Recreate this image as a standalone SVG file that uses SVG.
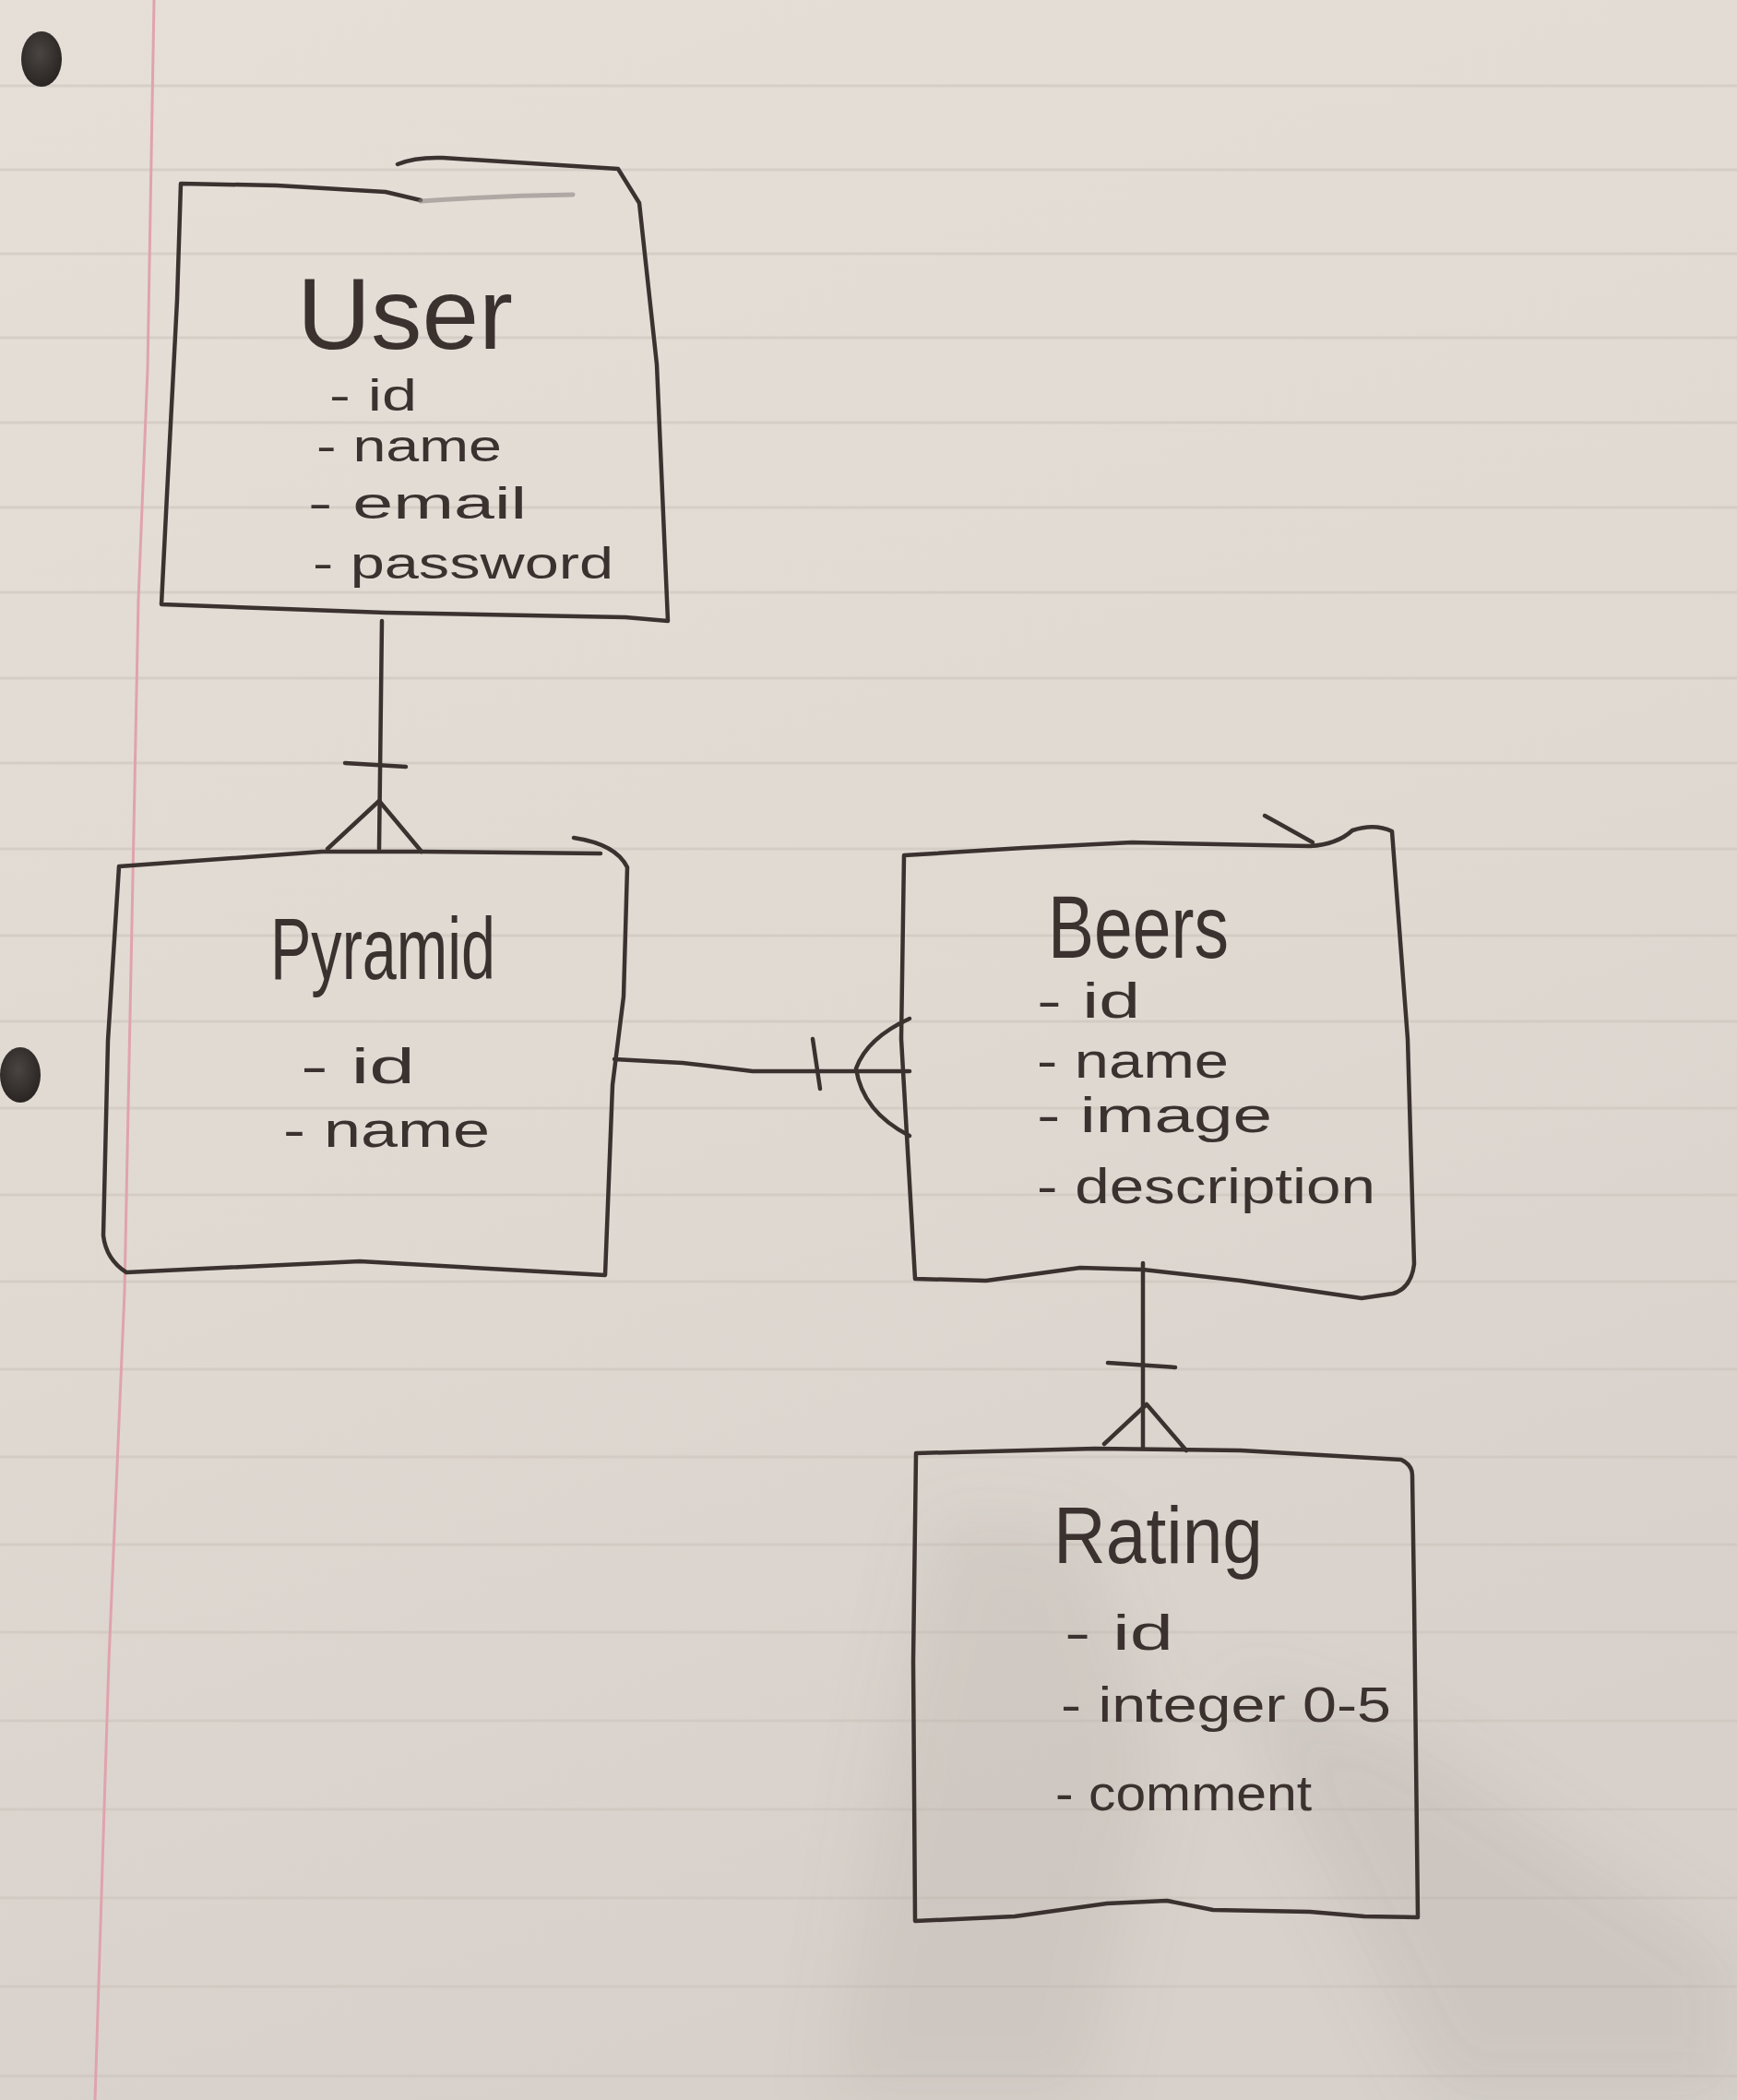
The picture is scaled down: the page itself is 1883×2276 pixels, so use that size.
<svg xmlns="http://www.w3.org/2000/svg" width="1883" height="2276" viewBox="0 0 1883 2276">
<defs>
<style>
.ink{fill:none;stroke:#3b3230;stroke-width:4.5;stroke-linecap:round;stroke-linejoin:round}
.rule{stroke:#cbc3bc;stroke-width:3;opacity:0.55}
.title{font-family:"Liberation Sans",Arial,sans-serif;fill:#3b3230}
.attr{font-family:"Liberation Sans",Arial,sans-serif;font-size:54px;fill:#3b3230}
.attr-sm{font-family:"Liberation Sans",Arial,sans-serif;font-size:48px;fill:#3b3230}
</style>
<linearGradient id="paperGrad" x1="0" y1="0" x2="0.3" y2="1">
<stop offset="0" stop-color="#e5dfd8"/>
<stop offset="0.6" stop-color="#dfd9d2"/>
<stop offset="1" stop-color="#d8d1cb"/>
</linearGradient>
<radialGradient id="holeGrad" cx="0.45" cy="0.4" r="0.6">
<stop offset="0" stop-color="#4a4442"/>
<stop offset="1" stop-color="#2a2523"/>
</radialGradient>
<filter id="blur" x="-30%" y="-30%" width="160%" height="160%">
<feGaussianBlur stdDeviation="35"/>
</filter>
</defs>

<g id="paper">
<rect x="0" y="0" width="1883" height="2276" fill="url(#paperGrad)"/>
<g id="rules">
<line class="rule" x1="0" y1="93" x2="1883" y2="93"/>
<line class="rule" x1="0" y1="184" x2="1883" y2="184"/>
<line class="rule" x1="0" y1="275" x2="1883" y2="275"/>
<line class="rule" x1="0" y1="366" x2="1883" y2="366"/>
<line class="rule" x1="0" y1="458" x2="1883" y2="458"/>
<line class="rule" x1="0" y1="550" x2="1883" y2="550"/>
<line class="rule" x1="0" y1="642" x2="1883" y2="642"/>
<line class="rule" x1="0" y1="735" x2="1883" y2="735"/>
<line class="rule" x1="0" y1="827" x2="1883" y2="827"/>
<line class="rule" x1="0" y1="920" x2="1883" y2="920"/>
<line class="rule" x1="0" y1="1014" x2="1883" y2="1014"/>
<line class="rule" x1="0" y1="1107" x2="1883" y2="1107"/>
<line class="rule" x1="0" y1="1201" x2="1883" y2="1201"/>
<line class="rule" x1="0" y1="1295" x2="1883" y2="1295"/>
<line class="rule" x1="0" y1="1389" x2="1883" y2="1389"/>
<line class="rule" x1="0" y1="1484" x2="1883" y2="1484"/>
<line class="rule" x1="0" y1="1579" x2="1883" y2="1579"/>
<line class="rule" x1="0" y1="1674" x2="1883" y2="1674"/>
<line class="rule" x1="0" y1="1769" x2="1883" y2="1769"/>
<line class="rule" x1="0" y1="1865" x2="1883" y2="1865"/>
<line class="rule" x1="0" y1="1961" x2="1883" y2="1961"/>
<line class="rule" x1="0" y1="2057" x2="1883" y2="2057"/>
<line class="rule" x1="0" y1="2153" x2="1883" y2="2153"/>
<line class="rule" x1="0" y1="2250" x2="1883" y2="2250"/>
</g>
<path d="M167,0 L160,400 L150,650 L143,1000 L135,1400 L118,1800 L103,2276" fill="none" stroke="#e0a3ad" stroke-width="3"/>
<g id="shadow" filter="url(#blur)">
<polygon points="1020,1640 1180,1660 1260,1900 1180,2276 900,2276 960,1900" fill="#8a827c" opacity="0.12"/>
<polygon points="1330,1820 1520,1880 1883,2120 1883,2276 1560,2276" fill="#8a827c" opacity="0.14"/>
</g>
<ellipse cx="45" cy="64" rx="22" ry="30" fill="url(#holeGrad)"/>
<ellipse cx="22" cy="1165" rx="22" ry="30" fill="url(#holeGrad)"/>
</g>

<g id="connectors">
<g id="user-pyramid">
<path class="ink" d="M414,673 L411,920"/>
<path class="ink" d="M374,827 L440,831"/>
<path class="ink" d="M355,920 L411,868 L457,923"/>
</g>
<g id="pyramid-beers">
<path class="ink" d="M666,1148 L740,1152 L816,1161 L986,1161"/>
<path class="ink" d="M881,1126 L889,1180"/>
<path class="ink" d="M986,1104 Q940,1125 928,1158 Q935,1205 986,1231"/>
</g>
<g id="beers-rating">
<path class="ink" d="M1239,1369 L1239,1570"/>
<path class="ink" d="M1201,1477 L1274,1482"/>
<path class="ink" d="M1197,1565 L1243,1522 L1286,1572"/>
</g>
</g>

<g id="node-user">
<path class="ink" d="M456,217 L418,208 L300,201 L196,199 L192,325 L181,536 L175,655 L418,664 L678,669 L724,673 L712,395 L693,220 L670,183 L480,171 Q450,170 431,178"/>
<path d="M456,218 Q540,212 621,211" fill="none" stroke="#8c8682" stroke-width="5" opacity="0.6" stroke-linecap="round"/>
<text class="title" x="322" y="378" font-size="110" textLength="234" lengthAdjust="spacingAndGlyphs">User</text>
<text class="attr-sm" x="357" y="445" textLength="95" lengthAdjust="spacingAndGlyphs">- id</text>
<text class="attr-sm" x="343" y="500" textLength="201" lengthAdjust="spacingAndGlyphs">- name</text>
<text class="attr-sm" x="334" y="562" textLength="237" lengthAdjust="spacingAndGlyphs">- email</text>
<text class="attr-sm" x="339" y="627" textLength="326" lengthAdjust="spacingAndGlyphs">- password</text>
</g>

<g id="node-pyramid">
<path class="ink" d="M129,939 L349,923 L457,923 L651,925 M622,908 Q668,915 680,940 L676,1080 L664,1176 L656,1382 L390,1367 L137,1379 Q115,1365 112,1339 L117,1128 L129,939"/>
<text class="title" x="293" y="1061" font-size="94" textLength="244" lengthAdjust="spacingAndGlyphs">Pyramid</text>
<text class="attr" x="326" y="1174" textLength="124" lengthAdjust="spacingAndGlyphs">- id</text>
<text class="attr" x="307" y="1243" textLength="224" lengthAdjust="spacingAndGlyphs">- name</text>
</g>

<g id="node-beers">
<path class="ink" d="M980,927 L1109,919 L1227,913 L1420,917 Q1450,915 1466,900 Q1490,892 1509,901 L1526,1126 L1533,1370 Q1530,1396 1510,1402 L1476,1407 L1345,1388 L1239,1376 L1171,1374 L1069,1388 L992,1386 L977,1126 Z"/>
<path class="ink" d="M1371,884 Q1400,900 1423,913"/>
<text class="title" x="1136" y="1038" font-size="96" textLength="196" lengthAdjust="spacingAndGlyphs">Beers</text>
<text class="attr" x="1124" y="1103" textLength="112" lengthAdjust="spacingAndGlyphs">- id</text>
<text class="attr" x="1124" y="1168" textLength="208" lengthAdjust="spacingAndGlyphs">- name</text>
<text class="attr" x="1124" y="1227" textLength="255" lengthAdjust="spacingAndGlyphs">- image</text>
<text class="attr" x="1124" y="1304" textLength="367" lengthAdjust="spacingAndGlyphs">- description</text>
</g>

<g id="node-rating">
<path class="ink" d="M993,1575 L1187,1570 L1345,1572 L1519,1582 Q1531,1588 1531,1599 L1533,1733 L1537,2078 L1479,2077 L1420,2072 L1315,2070 L1265,2060 L1200,2063 L1100,2077 L992,2082 L990,1800 Z"/>
<text class="title" x="1142" y="1694" font-size="88" textLength="227" lengthAdjust="spacingAndGlyphs">Rating</text>
<text class="attr" x="1154" y="1788" textLength="118" lengthAdjust="spacingAndGlyphs">- id</text>
<text class="attr" x="1150" y="1866" textLength="358" lengthAdjust="spacingAndGlyphs">- integer 0-5</text>
<text class="attr" x="1144" y="1962" textLength="278" lengthAdjust="spacingAndGlyphs">- comment</text>
</g>
</svg>
